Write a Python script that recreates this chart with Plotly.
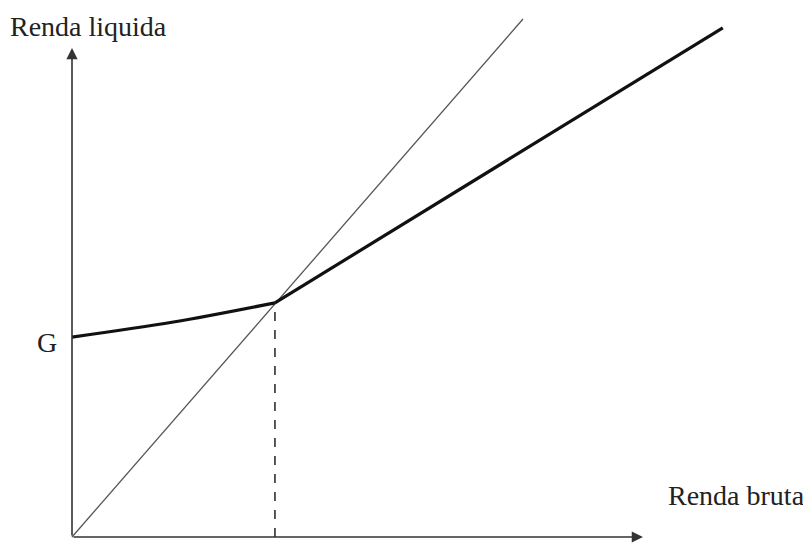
import plotly.graph_objects as go

# Data (abstract units, 45-degree line y = x)
diag_x = [0, 10]
diag_y = [0, 10]
net_low_x = [0, 2.25, 4.5]
net_low_y = [3.86, 4.15, 4.52]
net_high_x = [4.5, 14.43]
net_high_y = [4.52, 9.83]
kink_x = 4.5
kink_y = 4.52
G_value = 3.86
x_axis_end = 12.66
y_axis_end = 9.44

labels = {"y": "Renda liquida", "x": "Renda bruta", "g": "G"}

# page is offset by the default 8px body margin
OFF = 8
W, H = 811 - OFF, 545 - OFF
ox, oy = 72 - OFF, 537 - OFF   # origin in figure pixels
kx, ky = 45.1, 51.8            # pixels per unit

fig = go.Figure()

fig.add_trace(go.Scatter(x=diag_x, y=diag_y, mode="lines",
                         line=dict(color="#555555", width=1.3), hoverinfo="skip"))
fig.add_trace(go.Scatter(x=[kink_x, kink_x], y=[0, kink_y], mode="lines",
                         line=dict(color="#222222", width=1.5, dash="dash"), hoverinfo="skip"))
fig.add_trace(go.Scatter(x=net_low_x, y=net_low_y, mode="lines",
                         line=dict(color="#111111", width=3.2, shape="spline", smoothing=1),
                         hoverinfo="skip"))
fig.add_trace(go.Scatter(x=net_high_x, y=net_high_y, mode="lines",
                         line=dict(color="#111111", width=3.2), hoverinfo="skip"))

# axes with arrows
fig.add_annotation(x=x_axis_end, y=0, ax=0, ay=0, xref="x", yref="y", axref="x", ayref="y",
                   showarrow=True, arrowhead=2, arrowsize=1.4, arrowwidth=1.6,
                   arrowcolor="#333333", text="")
fig.add_annotation(x=0, y=y_axis_end, ax=0, ay=0, xref="x", yref="y", axref="x", ayref="y",
                   showarrow=True, arrowhead=2, arrowsize=1.4, arrowwidth=1.6,
                   arrowcolor="#333333", text="")

font = dict(family="Liberation Serif", size=28, color="#222222")
fig.add_annotation(x=0.0, y=0.965, xref="paper", yref="paper", text=labels["y"], showarrow=False,
                   xanchor="left", yanchor="middle", font=font)
fig.add_annotation(x=0.995, y=0.093, xref="paper", yref="paper", text=labels["x"], showarrow=False,
                   xanchor="right", yanchor="middle", font=font)
fig.add_annotation(x=-0.28, y=G_value - 0.1, xref="x", yref="y", text=labels["g"], showarrow=False,
                   xanchor="right", yanchor="middle", font=font)

fig.update_layout(
    width=W, height=H,
    margin=dict(l=0, r=0, t=0, b=0),
    paper_bgcolor="white", plot_bgcolor="white",
    showlegend=False,
    xaxis=dict(range=[-ox / kx, (W - ox) / kx], visible=False, fixedrange=True),
    yaxis=dict(range=[-(H - oy) / ky, oy / ky], visible=False, fixedrange=True),
)

fig.write_html("out.html")
